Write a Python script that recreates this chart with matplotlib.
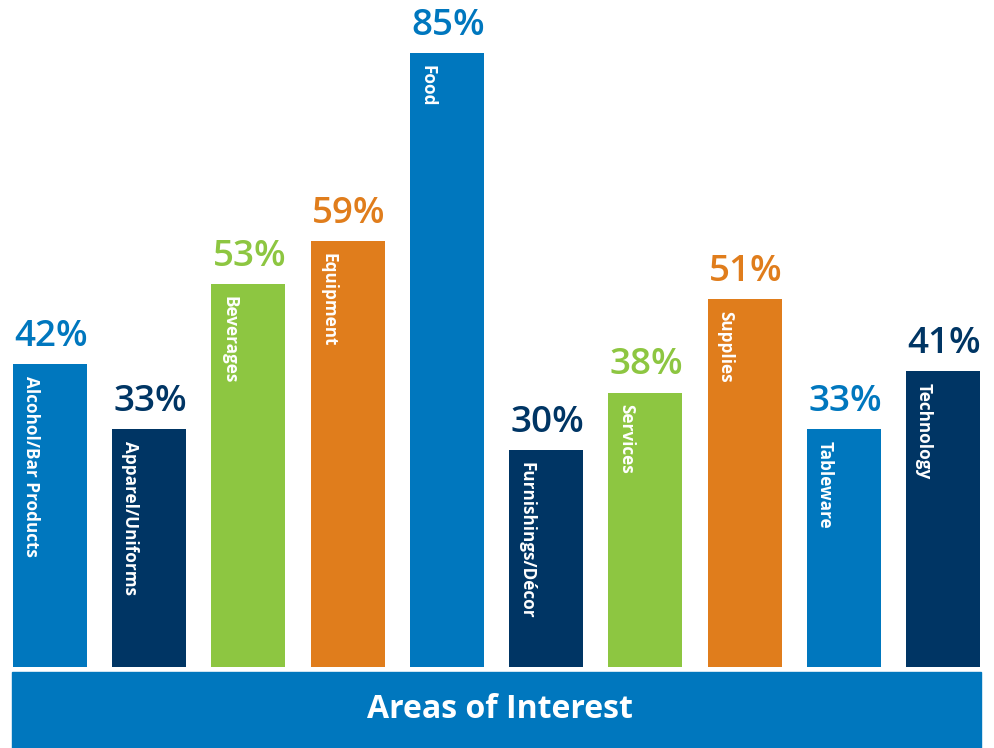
import matplotlib
matplotlib.use('Agg')
import matplotlib.pyplot as plt
from matplotlib.patches import Rectangle

categories = ['Alcohol/Bar Products', 'Apparel/Uniforms', 'Beverages', 'Equipment', 'Food',
              'Furnishings/Décor', 'Services', 'Supplies', 'Tableware', 'Technology']
values = [42, 33, 53, 59, 85, 30, 38, 51, 33, 41]
blue = '#0077BE'
navy = '#003564'
green = '#8DC641'
orange = '#E07D1C'
colors = [blue, navy, green, orange, blue, navy, green, orange, blue, navy]
title = 'Areas of Interest'

plt.rcParams['font.family'] = ['Open Sans', 'DejaVu Sans']

fig = plt.figure(figsize=(9.95, 7.48), dpi=100)
# axes: bottom of bars at 667 px from top, top of axes at top of figure
ax = fig.add_axes([0, (748 - 667) / 748, 1, 667 / 748])
pitch = 99.22
w = 74 / pitch
x = list(range(len(values)))
ax.bar(x, values, width=w, color=colors, linewidth=0)
ax.set_xlim(-50 / pitch, (995 - 50) / pitch)
ax.set_ylim(0, 667 / (614 / 85))
ax.axis('off')

for i, v in enumerate(values):
    ax.annotate('%d%%' % v, xy=(i, v), xytext=(1, 13), textcoords='offset points',
                ha='center', va='baseline', fontsize=26.5, fontweight='semibold', color=colors[i])
    ax.annotate(categories[i], xy=(i - w / 2, v), xytext=(9.2, -8.6), textcoords='offset points',
                ha='left', va='baseline', rotation=270, rotation_mode='anchor',
                fontsize=12.3, fontweight='bold', color='white')

fig.patches.append(Rectangle((12 / 995, 0), (981 - 12) / 995, (748 - 672) / 748,
                             transform=fig.transFigure, color=blue, zorder=0))
fig.text(500 / 995, (748 - 710) / 748, title, ha='center', va='center',
         fontsize=23, fontweight='bold', color='white')

fig.savefig('out.png', dpi=100)
